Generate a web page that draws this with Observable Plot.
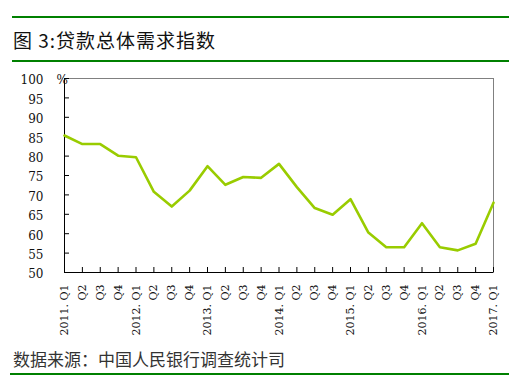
<!DOCTYPE html>
<html><head><meta charset="utf-8">
<script src="https://cdn.jsdelivr.net/npm/d3@7"></script>
<script src="https://cdn.jsdelivr.net/npm/@observablehq/plot@0.6"></script>
<style>
body{margin:0;background:#fff;}
#wrap{position:relative;width:529px;height:391px;overflow:hidden;font-family:"Noto Sans CJK SC",sans-serif;}
.rule{position:absolute;left:12px;width:497px;height:2px;background:#008000;}
#title{position:absolute;left:13px;top:27px;font-size:19px;line-height:26px;letter-spacing:1px;font-weight:normal;color:#111;white-space:nowrap;}
#caption{position:absolute;left:13px;top:347px;font-size:17px;line-height:24px;color:#333;white-space:nowrap;}
#chart{position:absolute;left:0;top:66px;}
#chart svg text{font-family:"DejaVu Serif",serif !important;}
</style></head><body>
<div id="wrap">
<div class="rule" style="top:16px"></div>
<div id="title">图&nbsp;3:贷款总体需求指数</div>
<div class="rule" style="top:60px"></div>
<div id="chart"></div>
<div id="caption">数据来源：中国人民银行调查统计司</div>
<div class="rule" style="top:373px;left:10px;width:499px"></div>
</div>
<script>
const quarters = ["2011. Q1","Q2","Q3","Q4","2012. Q1","Q2","Q3","Q4","2013. Q1","Q2","Q3","Q4","2014. Q1","Q2","Q3","Q4","2015. Q1","Q2","Q3","Q4","2016. Q1","Q2","Q3","Q4","2017. Q1"];
const values = [85.3,83.1,83.1,80.1,79.7,70.8,67.0,71.1,77.4,72.6,74.6,74.4,78.0,72.0,66.6,64.9,68.9,60.3,56.5,56.5,62.7,56.5,55.7,57.4,68.0];
const yTicks = [50,55,60,65,70,75,80,85,90,95,100];
const idx = d3.range(quarters.length);

const chart = Plot.plot({
  width: 529,
  height: 280,
  marginTop: 12,
  marginBottom: 74,
  marginLeft: 64,
  marginRight: 36,
  style: {fontFamily: "DejaVu Serif", fontSize: "12px", color: "#111", background: "transparent"},
  x: {type: "linear", domain: [0, quarters.length - 1]},
  y: {domain: [50, 100]},
  marks: [
    Plot.frame({stroke: "#808080"}),
    Plot.ruleX([0], {stroke: "#000"}),
    Plot.ruleY([50], {stroke: "#000"}),
    Plot.tickY(yTicks, {y: d => d, stroke: "#000", insetRight: 424}),
    Plot.tickX(idx, {x: d => d, stroke: "#000", insetTop: 189}),
    Plot.line(values, {x: (d, i) => i, y: d => d, stroke: "#99cc00", strokeWidth: 2.6}),
    Plot.axisY({ticks: yTicks, tickSize: 0, tickPadding: 21, fontSize: 12, dy: 2}),
    Plot.axisX({ticks: idx, tickFormat: i => quarters[i], tickRotate: -90, tickSize: 0, tickPadding: 12, fontSize: 11}),
    Plot.text(["%"], {frameAnchor: "top-left", lineAnchor: "middle", dx: -8, dy: 2, text: d => d, fontSize: 12})
  ]
});
document.getElementById("chart").appendChild(chart);
</script>
</body></html>
